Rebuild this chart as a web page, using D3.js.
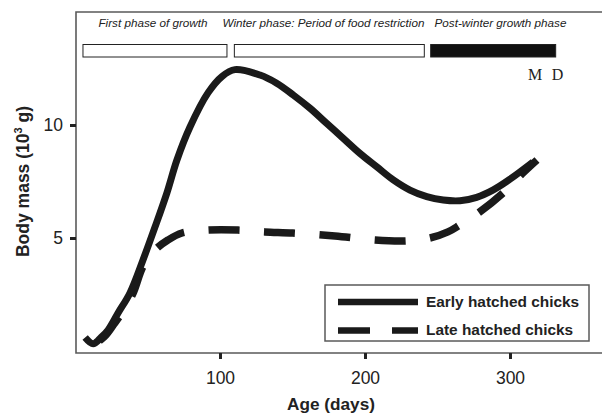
<!DOCTYPE html>
<html>
<head>
<meta charset="utf-8">
<script src="https://cdn.jsdelivr.net/npm/d3@7"></script>
<style>
  html, body { margin: 0; padding: 0; background: #fff; }
  svg { display: block; }
</style>
</head>
<body>
<svg id="chart" width="602" height="414"></svg>
<script>
// ---- data ----
const earlyAge  = [7, 12.5, 18, 22.8, 29.7, 37.9, 46.9, 55.2, 63.4, 70.3, 79.3, 91.7, 101.4, 110.3, 127.6, 139.1, 150.5, 162.1, 173.6, 185, 196.6, 208.1, 219.5, 231, 242.6, 254, 265.5, 277, 288.5, 300, 315.9];
const earlyMass = [0.6, 0.32, 0.6, 0.93, 1.68, 2.57, 4.03, 5.49, 7.0, 8.45, 9.91, 11.42, 12.15, 12.45, 12.21, 11.85, 11.33, 10.74, 10.07, 9.41, 8.74, 8.15, 7.57, 7.12, 6.83, 6.68, 6.65, 6.8, 7.13, 7.6, 8.36];
const lateAge   = [7, 12.5, 20, 27, 33, 40, 47, 55.2, 64.1, 73.8, 91.7, 112.4, 131, 150.3, 179.3, 206.9, 227.6, 244.8, 257.2, 265.5, 278, 295.2, 309, 318.6];
const lateMass  = [0.6, 0.32, 0.62, 1.2, 1.75, 2.55, 3.75, 4.47, 4.91, 5.22, 5.35, 5.35, 5.27, 5.22, 5.09, 4.91, 4.87, 5.0, 5.27, 5.58, 6.1, 6.99, 7.88, 8.45];
const xTicks = [100, 200, 300];
const yTicks = [5, 10];
const phaseLabels = ["First phase of growth", "Winter phase: Period of food restriction", "Post-winter growth phase"];
const phaseStart = [5.5, 109.9, 245.3];
const phaseEnd   = [104.8, 240.9, 331.5];
const phaseFilled = [false, false, true];
const seriesNames = ["Early hatched chicks", "Late hatched chicks"];

// ---- layout ----
const svg = d3.select("#chart");
const x = d3.scaleLinear().domain([0, 300]).range([75, 510]);
const y = d3.scaleLinear().domain([0, 10]).range([351, 125]);
const frameL = 76, frameT = 12, frameB = 353, frameR = 602;
const gray = "#5a5a5a";
const sans = "Liberation Sans, Arial, sans-serif";

// frame (open on right)
svg.append("path")
  .attr("d", `M${frameR},${frameT}H${frameL}V${frameB}H${frameR}`)
  .attr("fill", "none").attr("stroke", gray).attr("stroke-width", 1.6);

// x axis
const gx = svg.append("g").attr("transform", `translate(0,${frameB})`)
  .call(d3.axisBottom(x).tickValues(xTicks).tickSize(6).tickPadding(13).tickFormat(d3.format("d")));
gx.select(".domain").remove();
gx.selectAll(".tick line").attr("stroke", "#222").attr("stroke-width", 3);
gx.selectAll(".tick text").attr("fill", "#222").style("font-family", sans).style("font-size", "17.5px");

// y axis
const gy = svg.append("g").attr("transform", `translate(${frameL},0)`)
  .call(d3.axisLeft(y).tickValues(yTicks).tickSize(6).tickPadding(7).tickFormat(d3.format("d")));
gy.select(".domain").remove();
gy.selectAll(".tick line").attr("stroke", "#222").attr("stroke-width", 3);
gy.selectAll(".tick text").attr("fill", "#222").style("font-family", sans).style("font-size", "17.5px");

// axis titles
svg.append("text").attr("x", 331).attr("y", 410).attr("text-anchor", "middle")
  .style("font-family", sans).style("font-size", "17.2px").style("font-weight", "bold")
  .attr("fill", "#222").text("Age (days)");
const yt = svg.append("text").attr("transform", "translate(29,181.5) rotate(-90)").attr("text-anchor", "middle")
  .style("font-family", sans).style("font-size", "17.5px").style("font-weight", "bold")
  .attr("fill", "#222");
yt.append("tspan").text("Body mass (10");
yt.append("tspan").attr("dy", -7).style("font-size", "11px").text("3");
yt.append("tspan").attr("dy", 7).text(" g)");

// phase labels & bars
const phaseCenters = [153, 323.5, 500.5];
phaseLabels.forEach((lab, i) => {
  svg.append("text").attr("x", phaseCenters[i]).attr("y", 27).attr("text-anchor", "middle")
    .style("font-family", sans).style("font-size", "11.7px").style("font-style", "italic")
    .attr("fill", "#222").text(lab);
});
svg.selectAll("rect.phase").data(phaseStart).enter().append("rect").attr("class", "phase")
  .attr("x", (d) => x(d)).attr("y", 44.5)
  .attr("width", (d, i) => x(phaseEnd[i]) - x(d)).attr("height", 12.5)
  .attr("fill", (d, i) => phaseFilled[i] ? "#111" : "#fff")
  .attr("stroke", "#222").attr("stroke-width", 1);

// M D
const serif = "Liberation Serif, Times New Roman, serif";
svg.append("text").attr("x", 535).attr("y", 80).attr("text-anchor", "middle")
  .style("font-family", serif).style("font-size", "16px").attr("fill", "#222").text("M");
svg.append("text").attr("x", 557.5).attr("y", 80).attr("text-anchor", "middle")
  .style("font-family", serif).style("font-size", "16px").attr("fill", "#222").text("D");

// curves
const line = d3.line().x((d) => x(d[0])).y((d) => y(d[1])).curve(d3.curveCatmullRom.alpha(0.5));
const early = earlyAge.map((a, i) => [a, earlyMass[i]]);
const late = lateAge.map((a, i) => [a, lateMass[i]]);
const latePath = svg.append("path").attr("d", line(late)).attr("fill", "none").attr("stroke", "#1a1a1a")
  .attr("stroke-width", 7.5);
// align dash phase so a dash begins near age ~92 days (as in the reference)
(function () {
  const node = latePath.node();
  const total = node.getTotalLength();
  const targetX = x(92);
  let lo = 0, hi = total;
  for (let k = 0; k < 40; k++) {
    const mid = (lo + hi) / 2;
    if (node.getPointAtLength(mid).x < targetX) lo = mid; else hi = mid;
  }
  const period = 55.5;
  const offset = period - (lo % period);
  latePath.attr("stroke-dasharray", "31,24.5").attr("stroke-dashoffset", offset);
})();
svg.append("path").attr("d", line(early)).attr("fill", "none").attr("stroke", "#1a1a1a")
  .attr("stroke-width", 7);

// legend
svg.append("rect").attr("x", 325).attr("y", 285).attr("width", 264).attr("height", 56)
  .attr("fill", "#fff").attr("stroke", gray).attr("stroke-width", 1.5);
const legY = [302, 330.5];
const legTextY = [306.5, 335];
seriesNames.forEach((name, i) => {
  svg.append("line").attr("x1", 338).attr("x2", 418).attr("y1", legY[i]).attr("y2", legY[i])
    .attr("stroke", "#1a1a1a").attr("stroke-width", 6.5)
    .attr("stroke-dasharray", i === 1 ? "32,22" : null);
  svg.append("text").attr("x", 426).attr("y", legTextY[i])
    .style("font-family", sans).style("font-size", "15.4px").style("font-weight", "bold")
    .attr("fill", "#222").text(name);
});
</script>
</body>
</html>
